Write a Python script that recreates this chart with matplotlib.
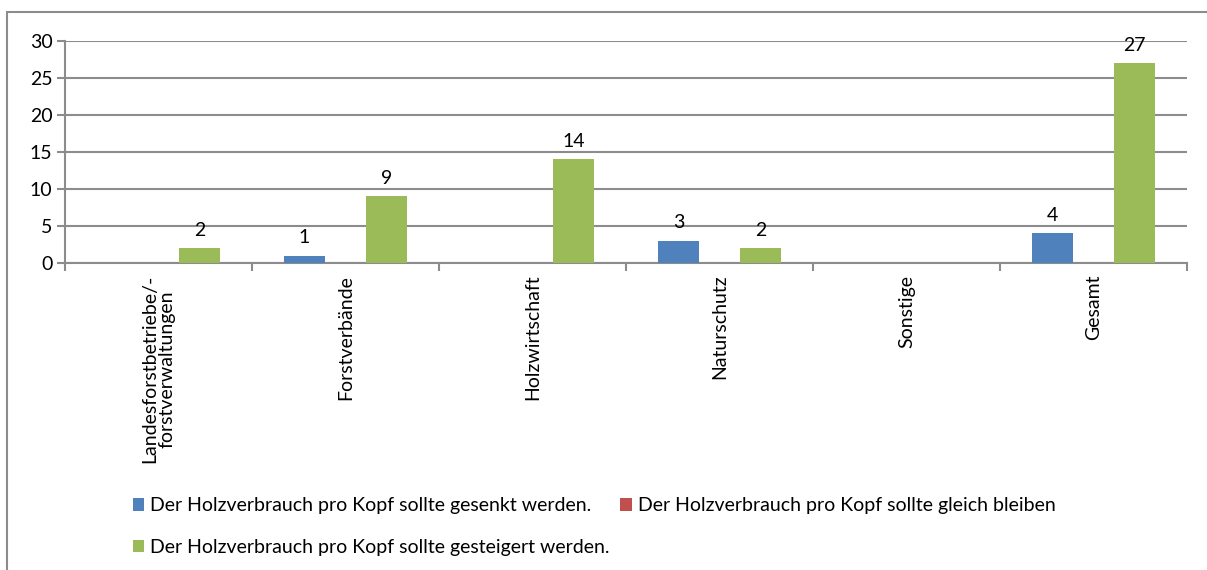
import matplotlib.pyplot as plt
from matplotlib.patches import Rectangle
import numpy as np

plt.rcParams['font.family'] = ['Lato', 'DejaVu Sans']

categories = ['Landesforstbetriebe/-\nforstverwaltungen', 'Forstverbände', 'Holzwirtschaft',
              'Naturschutz', 'Sonstige', 'Gesamt']
gesenkt = [0, 1, 0, 3, 0, 4]
gleich = [0, 0, 0, 0, 0, 0]
gesteigert = [2, 9, 14, 2, 0, 27]
series_names = ['Der Holzverbrauch pro Kopf sollte gesenkt werden.',
                'Der Holzverbrauch pro Kopf sollte gleich bleiben',
                'Der Holzverbrauch pro Kopf sollte gesteigert werden.']
colors = ['#4F81BD', '#C0504D', '#9BBB59']
grid_col = '#8C8C8C'
fs = 14

fig = plt.figure(figsize=(12.07, 5.70), dpi=100)
ax = fig.add_axes([65/1207, 1 - 263/570, 1122/1207, 222/570])

# outer chart border (only left/top visible in reference)
fig.patches.append(Rectangle((6.5/1207, -0.05), 1.2, 1 - 11.5/570 + 0.05, transform=fig.transFigure,
                             fill=False, edgecolor='#8C8C8C', linewidth=1.5))

x = np.arange(len(categories))
w = 0.22
bars = []
for i, vals in enumerate([gesenkt, gleich, gesteigert]):
    b = ax.bar(x + (i - 1) * w, vals, w, color=colors[i], label=series_names[i], zorder=3)
    bars.append(b)
    for rect, v in zip(b, vals):
        if v > 0:
            ax.annotate(str(v), (rect.get_x() + rect.get_width() / 2, v), xytext=(0, 13),
                        textcoords='offset points', ha='center', va='center', fontsize=fs)

ax.set_xlim(-0.5, len(categories) - 0.5)
ax.set_ylim(0, 30)
ax.set_yticks(range(0, 31, 5))
ax.yaxis.grid(True, color=grid_col, linewidth=1.5, zorder=0)
ax.set_axisbelow(True)
for s in ['top', 'right']:
    ax.spines[s].set_visible(False)
for s in ['left', 'bottom']:
    ax.spines[s].set_color(grid_col)
    ax.spines[s].set_linewidth(1.5)

ax.set_xticks(np.arange(len(categories) + 1) - 0.5)
ax.set_xticklabels([])
ax.tick_params(axis='x', length=6, width=1.5, color=grid_col)
ax.tick_params(axis='y', length=6, width=1.5, color=grid_col, labelsize=fs, pad=3)
for i, c in enumerate(categories):
    ax.text(i, -1.6, c, rotation=90, ha='center', va='top', fontsize=fs,
            multialignment='center', linespacing=1.0)

handles = [bars[0], bars[2], bars[1]]
labels = [series_names[0], series_names[2], series_names[1]]
fig.legend(handles, labels, ncol=2, loc='upper left', bbox_to_anchor=(115/1207, 1 - 480/570),
           frameon=False, fontsize=fs, handlelength=0.6, handleheight=0.6, handletextpad=0.3,
           columnspacing=0.55, labelspacing=1.25)

fig.savefig('out.png', dpi=100)
